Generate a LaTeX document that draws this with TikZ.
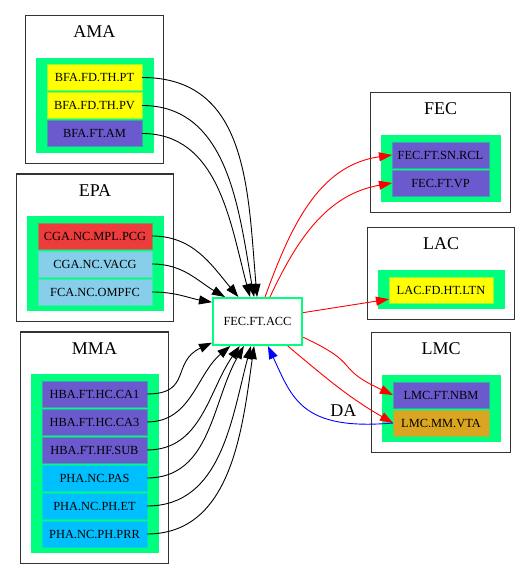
\documentclass[tikz,border=0pt]{standalone}
\usepackage{fontspec}
\setmainfont{Liberation Serif}
\usetikzlibrary{arrows.meta, positioning, fit, backgrounds}
\definecolor{cgreen}{HTML}{00FF7F}
\definecolor{cyellow}{HTML}{FFFF00}
\definecolor{cslate}{HTML}{6A5ACD}
\definecolor{cred}{HTML}{EE3B3B}
\definecolor{csky}{HTML}{87CEEB}
\definecolor{cdeep}{HTML}{00BFFF}
\definecolor{cgold}{HTML}{DAA520}
\tikzset{
  every picture/.style={line width=0.9pt},
  leaf/.style={fill=#1, draw=#1!55!cgreen, line width=0.6pt, minimum height=26pt, inner sep=0pt, outer sep=0pt, font=\fontsize{12.4}{14}\selectfont},
  leaf/.default=cslate,
  group/.style={fill=cgreen, inner xsep=11.5pt, inner ysep=6.5pt},
  cluster/.style={draw=black!80, line width=1.3pt, inner sep=10pt},
  title/.style={font=\fontsize{18}{20}\selectfont, inner sep=0pt, text=black},
  hub/.style={draw=cgreen, line width=2pt, fill=white, minimum width=89pt, minimum height=47pt, font=\fontsize{12.4}{14}\selectfont},
  arrow/.style={-{Triangle[length=13pt, width=9pt]}, line width=0.9pt},
}

\begin{document}
\begin{tikzpicture}[x=1pt, y=1pt]
  \useasboundingbox (0,0) rectangle (531,580);
  % AMA
  \node[leaf=cyellow, minimum width=95pt] (pt) at (94.5,502.5) {BFA.FD.TH.PT};
  \node[leaf=cyellow, minimum width=95pt, below=2pt of pt] (pv) {BFA.FD.TH.PV};
  \node[leaf=cslate, minimum width=95pt, below=2pt of pv] (am) {BFA.FT.AM};
  % EPA
  \node[leaf=cred, minimum width=114pt] (pcg) at (95,344) {CGA.NC.MPL.PCG};
  \node[leaf=csky, minimum width=114pt, below=2pt of pcg] (vacg) {CGA.NC.VACG};
  \node[leaf=csky, minimum width=114pt, below=2pt of vacg] (ompfc) {FCA.NC.OMPFC};
  % MMA
  \node[leaf=cslate, minimum width=105pt] (ca1) at (94.5,186) {HBA.FT.HC.CA1};
  \node[leaf=cslate, minimum width=105pt, below=2pt of ca1] (ca3) {HBA.FT.HC.CA3};
  \node[leaf=cslate, minimum width=105pt, below=2pt of ca3] (sub) {HBA.FT.HF.SUB};
  \node[leaf=cdeep, minimum width=105pt, below=2pt of sub] (pas) {PHA.NC.PAS};
  \node[leaf=cdeep, minimum width=105pt, below=2pt of pas] (et) {PHA.NC.PH.ET};
  \node[leaf=cdeep, minimum width=105pt, below=2pt of et] (prr) {PHA.NC.PH.PRR};
  % FEC
  \node[leaf=cslate, minimum width=97pt] (rcl) at (440.5,425) {FEC.FT.SN.RCL};
  \node[leaf=cslate, minimum width=97pt, below=2pt of rcl] (vp) {FEC.FT.VP};
  % LAC
  \node[leaf=cyellow, minimum width=104pt] (ltn) at (441,290) {LAC.FD.HT.LTN};
  % LMC
  \node[leaf=cslate, minimum width=96pt] (nbm) at (441,185) {LMC.FT.NBM};
  \node[leaf=cgold, minimum width=96pt, below=2pt of nbm] (vta) {LMC.MM.VTA};
  % hub
  \node[hub] (acc) at (257.5,258.5) {FEC.FT.ACC};

  \begin{scope}[on background layer]
    \node[group, fit=(pt)(am)] (amag) {};
    \node[title, above=20pt of amag] (amat) {AMA};
    \node[cluster, fit=(amag)(amat)] (ama) {};
    \node[group, fit=(pcg)(ompfc)] (epag) {};
    \node[title, above=20pt of epag] (epat) {EPA};
    \node[cluster, fit=(epag)(epat)] (epa) {};
    \node[group, fit=(ca1)(prr)] (mmag) {};
    \node[title, above=20pt of mmag] (mmat) {MMA};
    \node[cluster, fit=(mmag)(mmat)] (mma) {};
    \node[group, fit=(rcl)(vp)] (fecg) {};
    \node[title, above=20pt of fecg] (fect) {FEC};
    \node[cluster, fit=(fecg)(fect)] (fec) {};
    \node[group, fit=(ltn)] (lacg) {};
    \node[title, above=20pt of lacg] (lact) {LAC};
    \node[cluster, fit=(lacg)(lact)] (lac) {};
    \node[group, fit=(nbm)(vta)] (lmcg) {};
    \node[title, above=20pt of lmcg] (lmct) {LMC};
    \node[cluster, fit=(lmcg)(lmct)] (lmc) {};
  \end{scope}

  % inputs
  \draw[arrow] (pt.east) to[out=0, in=95, looseness=1.1] (acc.91);
  \draw[arrow] (pv.east) to[out=0, in=100] (acc.98);
  \draw[arrow] (am.east) to[out=0, in=105] (acc.107);
  \draw[arrow] (pcg.east) to[out=0, in=130] (acc.128);
  \draw[arrow] (vacg.east) to[out=0, in=150] (acc.143);
  \draw[arrow] (ompfc.east) to[out=0, in=170] (acc.157);
  \draw[arrow] (ca1.east) to[out=0, in=205, looseness=1.4] (acc.205);
  \draw[arrow] (ca3.east) to[out=0, in=220] (acc.222);
  \draw[arrow] (sub.east) to[out=0, in=235] (acc.234);
  \draw[arrow] (pas.east) to[out=0, in=240] (acc.241);
  \draw[arrow] (et.east) to[out=0, in=255] (acc.255);
  \draw[arrow] (prr.east) to[out=0, in=262] (acc.262);
  % outputs
  \draw[arrow, red] (acc.73) to[out=70, in=188] (rcl.west);
  \draw[arrow, red] (acc.63) to[out=65, in=190] (vp.west);
  \draw[arrow, red] (acc.11) -- (ltn.190);
  \draw[arrow, red] (acc.-19) to[out=-25, in=155, looseness=1.6] (nbm.west);
  \draw[arrow, red] (acc.-39) to[out=-40, in=150] (vta.west);
  \draw[arrow, blue] (vta.west) to[out=185, in=-65, out looseness=1.6] node[title, pos=0.22, above=6pt] (da) {DA} (acc.-67);
\end{tikzpicture}
\end{document}
